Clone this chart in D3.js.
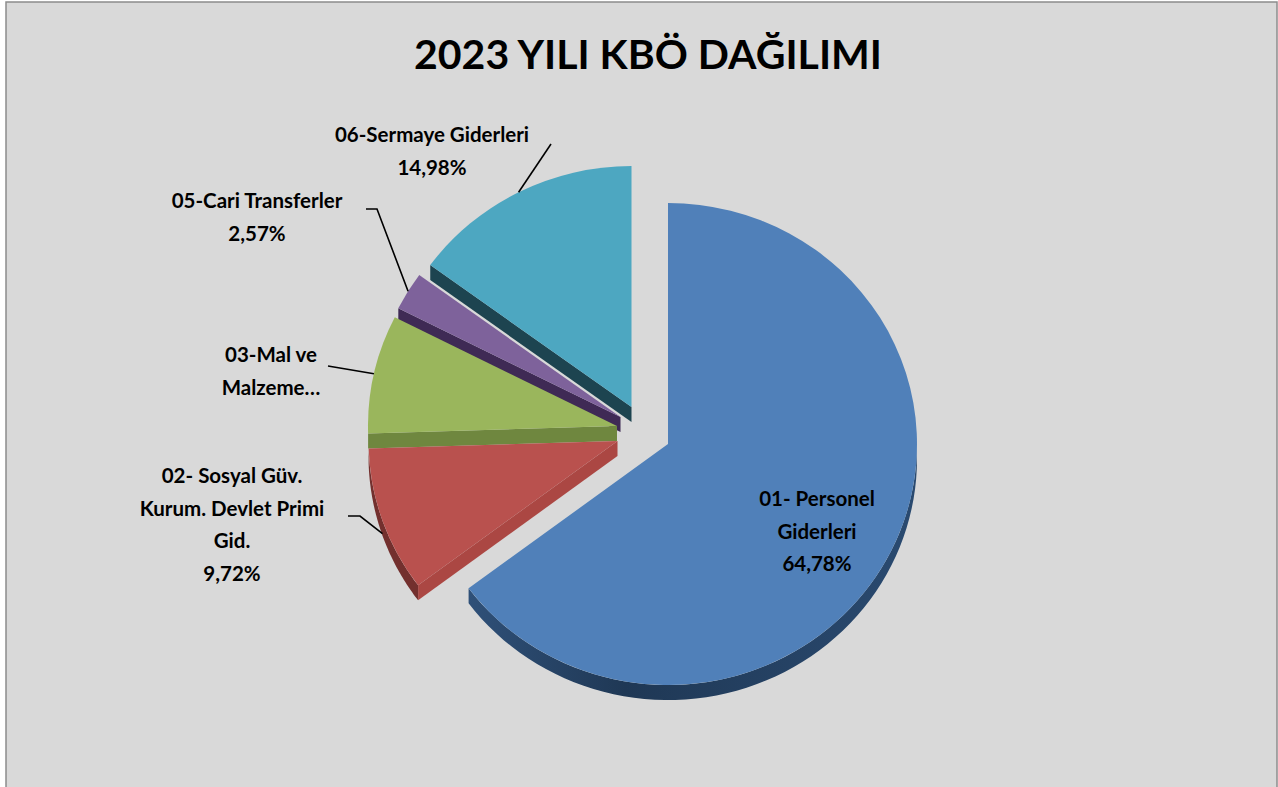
<!DOCTYPE html>
<html>
<head>
<meta charset="utf-8">
<style>
html, body { margin: 0; padding: 0; background: #fff; }
svg { display: block; }
text { font-family: Lato, "Noto Sans", sans-serif; font-weight: 700; fill: #000; }
.title { font-size: 41px; }
.label { font-size: 20.5px; }
.leader { fill: none; stroke: #000; stroke-width: 1.6; }
</style>
<script src="https://d3js.org/d3.v7.min.js"></script>
</head>
<body>
<script>
// values in slice order, clockwise from 12 o'clock
var categories = ["01- Personel Giderleri", "02- Sosyal Güv. Kurum. Devlet Primi Gid.", "03-Mal ve Malzeme…", "05-Cari Transferler", "06-Sermaye Giderleri"];
var shares = [64.78, 9.72, 7.95, 2.57, 14.98];
var labelLines = [
    ["01- Personel", "Giderleri", "64,78%"],
    ["02- Sosyal Güv.", "Kurum. Devlet Primi", "Gid.", "9,72%"],
    ["03-Mal ve", "Malzeme…"],
    ["05-Cari Transferler", "2,57%"],
    ["06-Sermaye Giderleri", "14,98%"]
];
var titleText = "2023 YILI KBÖ DAĞILIMI";

var width = 1278, height = 787;
var rx = 249, ry = 241, depth = 15;

// layout and style per slice, same order as categories
var explode = [[0, 0], [-50.5, -3], [-51, -18], [-47.5, -27], [-36.5, -37]];
var topColors = ["#5080b9", "#b9514e", "#9ab65c", "#7e629b", "#4da7c1"];
var cutColors = ["#2f5078", "#ab4743", "#6f873f", "#3f2a55", "#1d4450"];
var rimColors = ["url(#blueRim)", "#73302e", "#6f873f", "#3f2a55", "#1d4450"];
var labelPos = [[817, 506], [232, 483], [271, 362], [257, 208], [432, 142]];
var lineStep = 32.5;
// where each leader leaves its label: start point and optional elbow
var leaderStart = [null, [[348, 516], [360, 516]], [[328, 366]], [[366, 209], [377, 209]], [[551, 144]]];

var cx = 668, cy = 444;

var svg = d3.select("body").append("svg")
    .attr("width", width)
    .attr("height", height);

var defs = svg.append("defs");
var grad = defs.append("linearGradient").attr("id", "blueRim")
    .attr("x1", 0).attr("x2", 1).attr("y1", 0).attr("y2", 0);
grad.append("stop").attr("offset", "0%").attr("stop-color", "#2f5078");
grad.append("stop").attr("offset", "35%").attr("stop-color", "#1f3855");
grad.append("stop").attr("offset", "100%").attr("stop-color", "#2a4a70");

// chart area and its border
svg.append("rect")
    .attr("x", 6).attr("y", 2)
    .attr("width", width - 7).attr("height", height + 10)
    .attr("fill", "#d9d9d9")
    .attr("stroke", "#8c8c8c")
    .attr("stroke-width", 1.5);

svg.append("text")
    .attr("class", "title")
    .attr("x", 648)
    .attr("y", 69)
    .attr("text-anchor", "middle")
    .text(titleText);

var pie = d3.pie().sort(null);
var slices = pie(shares);

var arc = d3.arc().innerRadius(0).outerRadius(rx);
var outline = d3.line();

function ox(d) { return cx + explode[d.index][0]; }
function oy(d) { return cy + explode[d.index][1]; }
function px(d, a) { return ox(d) + Math.sin(a) * rx; }
function py(d, a) { return oy(d) - Math.cos(a) * ry; }

// wall under the outer edge, only the part that faces the viewer
function rimPath(d) {
    var a0 = Math.max(d.startAngle, Math.PI / 2),
        a1 = Math.min(d.endAngle, Math.PI * 1.5);
    if (a1 <= a0) return null;
    var steps = d3.range(0, 61).map(function(i) { return a0 + (a1 - a0) * i / 60; });
    var top = steps.map(function(a) { return [px(d, a), py(d, a)]; });
    var bottom = steps.slice().reverse().map(function(a) { return [px(d, a), py(d, a) + depth]; });
    return outline(top.concat(bottom)) + "Z";
}

// wall under the cut edge at the slice's clockwise start, seen from the front
function cutPath(d) {
    var a = d.startAngle;
    return outline([
        [ox(d), oy(d)],
        [px(d, a), py(d, a)],
        [px(d, a), py(d, a) + depth],
        [ox(d), oy(d) + depth]
    ]) + "Z";
}

// back to front: 06, 05, 03, 02, 01
var order = [4, 3, 2, 1, 0];
var groups = svg.selectAll("g.slice")
    .data(order.map(function(i) { return slices[i]; }))
    .enter().append("g")
    .attr("class", "slice");

groups.filter(function(d) { return d.index !== 0; })
    .append("path")
    .attr("d", cutPath)
    .attr("fill", function(d) { return cutColors[d.index]; });

groups.filter(function(d) { return rimPath(d) !== null; })
    .append("path")
    .attr("d", rimPath)
    .attr("fill", function(d) { return rimColors[d.index]; });

groups.append("path")
    .attr("transform", function(d) {
        return "translate(" + ox(d) + "," + oy(d) + ") scale(1," + (ry / rx) + ")";
    })
    .attr("d", arc)
    .attr("fill", function(d) { return topColors[d.index]; });

// leaders end at the middle of each slice's outer edge
svg.selectAll("path.leader")
    .data(slices.filter(function(d) { return leaderStart[d.index]; }))
    .enter().append("path")
    .attr("class", "leader")
    .attr("d", function(d) {
        var mid = (d.startAngle + d.endAngle) / 2;
        var drop = Math.cos(mid) < 0 ? depth - 2 : 0;
        return outline(leaderStart[d.index].concat([[px(d, mid), py(d, mid) + drop]]));
    });

svg.selectAll("text.label")
    .data(labelLines)
    .enter().append("text")
    .attr("class", "label")
    .attr("text-anchor", "middle")
    .attr("aria-label", function(d, i) { return categories[i]; })
    .each(function(lines, i) {
        d3.select(this).selectAll("tspan")
            .data(lines)
            .enter().append("tspan")
            .attr("x", labelPos[i][0])
            .attr("y", function(l, j) { return labelPos[i][1] + j * lineStep; })
            .text(function(l) { return l; });
    });
</script>
</body>
</html>
